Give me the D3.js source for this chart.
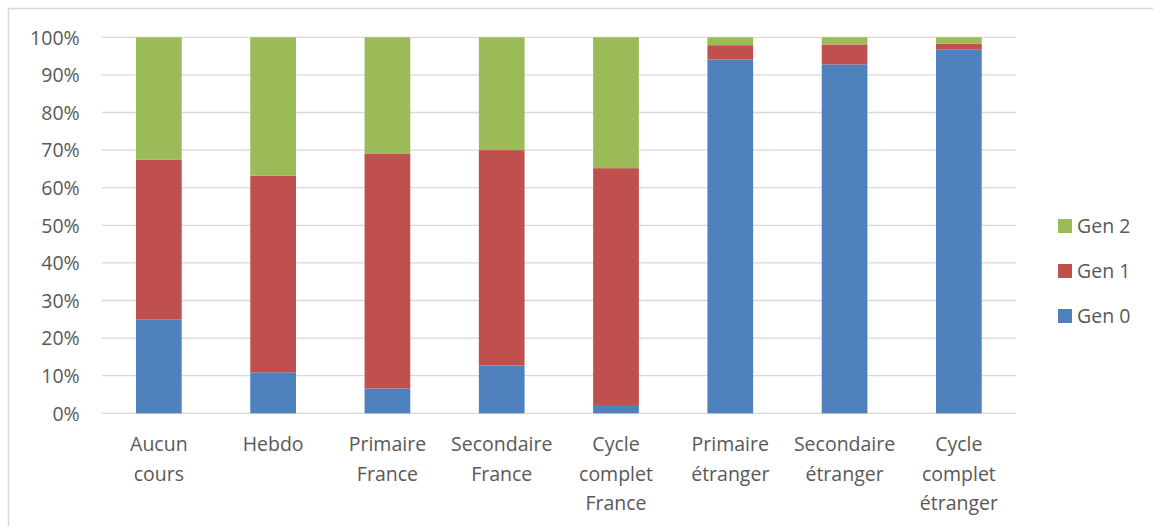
<!DOCTYPE html>
<html>
<head>
<meta charset="utf-8">
<script src="https://cdn.jsdelivr.net/npm/d3@7"></script>
<style>
  body { margin: 0; background: #fff; }
  svg text { font-family: "Open Sans", sans-serif; fill: #595959; }
</style>
</head>
<body>
<div id="chart"></div>
<script>
// Categories (x axis), multi-line labels
const categories = [
  ["Aucun", "cours"],
  ["Hebdo"],
  ["Primaire", "France"],
  ["Secondaire", "France"],
  ["Cycle", "complet", "France"],
  ["Primaire", "étranger"],
  ["Secondaire", "étranger"],
  ["Cycle", "complet", "étranger"]
];
const seriesNames = ["Gen 0", "Gen 1", "Gen 2"];
const seriesColors = ["#4f81bd", "#c0504d", "#9bbb59"];

// Percent shares per category
const gen0 = [25.0, 10.9, 6.6, 12.7, 2.2, 94.1, 92.8, 96.7];
const gen1 = [42.4, 52.3, 62.5, 57.3, 63.0, 3.8, 5.3, 1.6];
const gen2 = [32.6, 36.8, 30.9, 30.0, 34.8, 2.1, 1.9, 1.7];
const yTicks = [0, 10, 20, 30, 40, 50, 60, 70, 80, 90, 100];

const width = 1153, height = 526;
const margin = { left: 101.7, right: 137, top: 37.3, bottom: 112.7 };

const svg = d3.select("#chart").append("svg")
  .attr("width", width)
  .attr("height", height);

// chart border (only top/left edges visible in the frame)
svg.append("rect")
  .attr("x", 8.5).attr("y", 8.5)
  .attr("width", width + 20).attr("height", height + 20)
  .attr("fill", "none")
  .attr("stroke", "#d9d9d9")
  .attr("stroke-width", 1.5);

const keys = categories.map((c, i) => i);
const x = d3.scaleBand()
  .domain(keys)
  .range([margin.left, width - margin.right])
  .paddingInner(0.6)
  .paddingOuter(0.3);

const y = d3.scaleLinear()
  .domain([0, 100])
  .range([height - margin.bottom, margin.top]);

// gridlines
svg.append("g")
  .selectAll("line")
  .data(yTicks)
  .join("line")
  .attr("x1", margin.left)
  .attr("x2", width - margin.right)
  .attr("y1", d => y(d))
  .attr("y2", d => y(d))
  .attr("stroke", "#d9d9d9")
  .attr("stroke-width", 1.3);

// y axis labels
const yAxis = d3.axisLeft(y).tickValues(yTicks).tickFormat(d => d + "%").tickSize(0).tickPadding(0);
const yg = svg.append("g")
  .attr("transform", `translate(${margin.left - 22},0)`)
  .call(yAxis);
yg.select(".domain").remove();
yg.selectAll("text")
  .attr("font-size", "19.5px")
  .attr("dy", "0.35em")
  .style("font-family", "'Open Sans', sans-serif")
  .attr("fill", "#595959");

// stacked bars
const rows = keys.map(i => ({ i, g0: gen0[i], g1: gen1[i], g2: gen2[i] }));
const stack = d3.stack().keys(["g0", "g1", "g2"]);
const layers = stack(rows);

svg.append("g")
  .selectAll("g")
  .data(layers)
  .join("g")
  .attr("fill", (d, k) => seriesColors[k])
  .selectAll("rect")
  .data(d => d)
  .join("rect")
  .attr("x", d => x(d.data.i))
  .attr("width", x.bandwidth())
  .attr("y", d => y(Math.min(100, d[1])))
  .attr("height", d => y(d[0]) - y(Math.min(100, d[1])));

// x labels
const xl = svg.append("g");
categories.forEach((lines, i) => {
  const t = xl.append("text")
    .attr("x", x(i) + x.bandwidth() / 2)
    .attr("y", 451)
    .attr("text-anchor", "middle")
    .attr("font-size", "19.5px");
  lines.forEach((ln, j) => {
    t.append("tspan")
      .attr("x", x(i) + x.bandwidth() / 2)
      .attr("dy", j === 0 ? 0 : 29.5)
      .text(ln);
  });
});

// legend (reverse order: Gen 2 on top)
const legendY = [226, 271, 316];
const lg = svg.append("g");
[2, 1, 0].forEach((k, j) => {
  lg.append("rect")
    .attr("x", 1058).attr("y", legendY[j] - 7)
    .attr("width", 14).attr("height", 14)
    .attr("fill", seriesColors[k]);
  lg.append("text")
    .attr("x", 1077).attr("y", legendY[j])
    .attr("dy", "0.35em")
    .attr("font-size", "19.5px")
    .text(seriesNames[k]);
});
</script>
</body>
</html>
